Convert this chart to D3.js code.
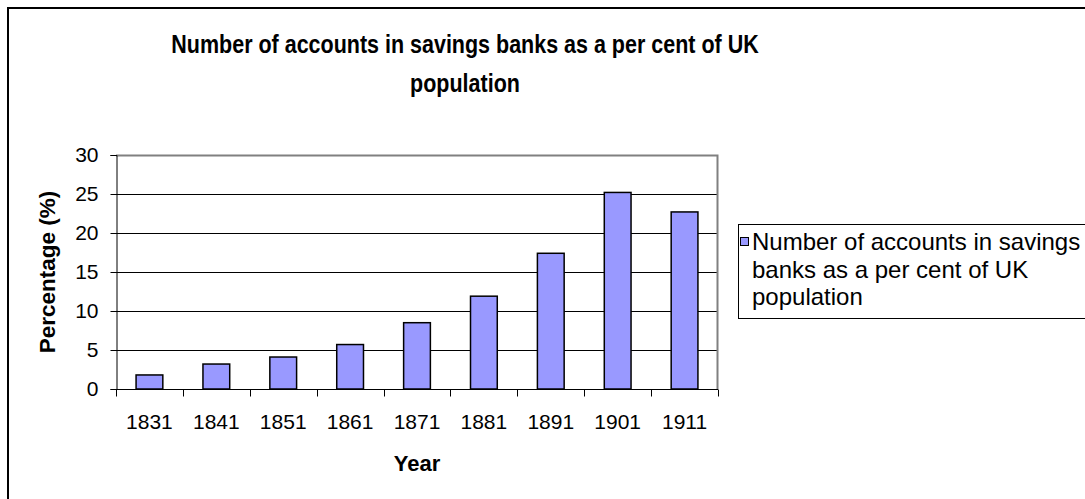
<!DOCTYPE html>
<html><head><meta charset="utf-8">
<script src="https://cdn.jsdelivr.net/npm/d3@7/dist/d3.min.js"></script>
<style>
body{margin:0;background:#fff}
svg{display:block}
text{font-family:Arial,"Liberation Sans",sans-serif;fill:#000}
</style>
</head><body>
<svg id="chart" width="1085" height="499"></svg>
<script>
const years = ["1831","1841","1851","1861","1871","1881","1891","1901","1911"];
const values = [1.8, 3.2, 4.1, 5.7, 8.5, 11.9, 17.4, 25.2, 22.7];
const yTicks = [0, 5, 10, 15, 20, 25, 30];
const titleLines = ["Number of accounts in savings banks as a per cent of UK", "population"];
const legendLines = ["Number of accounts in savings", "banks as a per cent of UK", "population"];
const xTitle = "Year";
const yTitle = "Percentage (%)";

const svg = d3.select("#chart");
const W = 1085, H = 499;
const plot = {left: 116, right: 718, top: 155, bottom: 389};
const barColor = "#9999FF";

// outer chart border (extends beyond the visible area on right/bottom)
svg.append("rect").attr("x", 8).attr("y", 8).attr("width", W + 20).attr("height", H + 20)
  .attr("fill", "#fff").attr("stroke", "#000").attr("stroke-width", 2);

// title (slightly condensed, as in the reference)
const title = svg.append("g");
titleLines.forEach((t, i) => {
  title.append("text").attr("transform", `translate(465,${44 + i * 39}) scale(0.86,1)`)
    .attr("dy", "0.35em")
    .attr("text-anchor", "middle").attr("font-size", 25).attr("font-weight", "bold").text(t);
});

const x = d3.scaleBand().domain(years).range([plot.left, plot.right]).padding(0);
const y = d3.scaleLinear().domain([0, 30]).range([plot.bottom, plot.top]);

// gridlines
svg.append("g").selectAll("line").data(yTicks.filter(d => d > 0 && d < 30)).join("line")
  .attr("x1", plot.left).attr("x2", plot.right)
  .attr("y1", d => Math.round(y(d)) + 0.5).attr("y2", d => Math.round(y(d)) + 0.5)
  .attr("stroke", "#000").attr("stroke-width", 1);

// plot area border top/right (grey)
svg.append("path")
  .attr("d", `M${plot.left},${plot.top + 0.5}H${plot.right - 0.5}V${plot.bottom}`)
  .attr("fill", "none").attr("stroke", "#808080").attr("stroke-width", 2);

// bars
const bw = x.bandwidth() * 0.4;
svg.append("g").selectAll("rect").data(values).join("rect")
  .attr("x", (d, i) => x(years[i]) + (x.bandwidth() - bw) / 2)
  .attr("y", d => y(d))
  .attr("width", bw)
  .attr("height", d => y(0) - y(d))
  .attr("fill", barColor).attr("stroke", "#000").attr("stroke-width", 1.5);

// y axis
const yAxis = d3.axisLeft(y).tickValues(yTicks).tickSize(6).tickPadding(12).tickFormat(d3.format("d"));
const gy = svg.append("g").attr("transform", `translate(${plot.left + 0.5},0)`).call(yAxis);
gy.selectAll("text").attr("font-size", 21).attr("font-family", "Arial, 'Liberation Sans', sans-serif");
gy.selectAll("line,path").attr("stroke", "#000");

// x axis: ticks at category boundaries
const gx = svg.append("g").attr("transform", `translate(0,${plot.bottom + 0.5})`);
gx.append("line").attr("x1", plot.left).attr("x2", plot.right).attr("stroke", "#000");
const bounds = years.map(d => x(d)).concat([plot.right]);
gx.selectAll("line.tick").data(bounds).join("line").attr("class", "tick")
  .attr("x1", d => Math.round(d) + 0.5).attr("x2", d => Math.round(d) + 0.5)
  .attr("y1", 0).attr("y2", 7).attr("stroke", "#000");
gx.selectAll("text").data(years).join("text")
  .attr("x", d => x(d) + x.bandwidth() / 2).attr("y", 32).attr("dy", "0.35em")
  .attr("text-anchor", "middle").attr("font-size", 21).text(d => d);

// axis titles
svg.append("text").attr("x", (plot.left + plot.right) / 2).attr("y", 463).attr("dy", "0.35em")
  .attr("text-anchor", "middle").attr("font-size", 22).attr("font-weight", "bold").text(xTitle);
svg.append("text").attr("transform", `translate(47,${(plot.top + plot.bottom) / 2}) rotate(-90)`)
  .attr("dy", "0.35em").attr("text-anchor", "middle").attr("font-size", 22.5).attr("font-weight", "bold").text(yTitle);

// legend
const lg = svg.append("g");
lg.append("rect").attr("x", 738.5).attr("y", 224.5).attr("width", 400).attr("height", 94)
  .attr("fill", "#fff").attr("stroke", "#000").attr("stroke-width", 1);
lg.append("rect").attr("x", 740.5).attr("y", 237.5).attr("width", 8).attr("height", 8)
  .attr("fill", barColor).attr("stroke", "#000").attr("stroke-width", 1);
legendLines.forEach((t, i) => {
  lg.append("text").attr("x", 752).attr("y", 242 + i * 27.5).attr("dy", "0.35em")
    .attr("font-size", 24).text(t);
});
</script>
</body></html>
